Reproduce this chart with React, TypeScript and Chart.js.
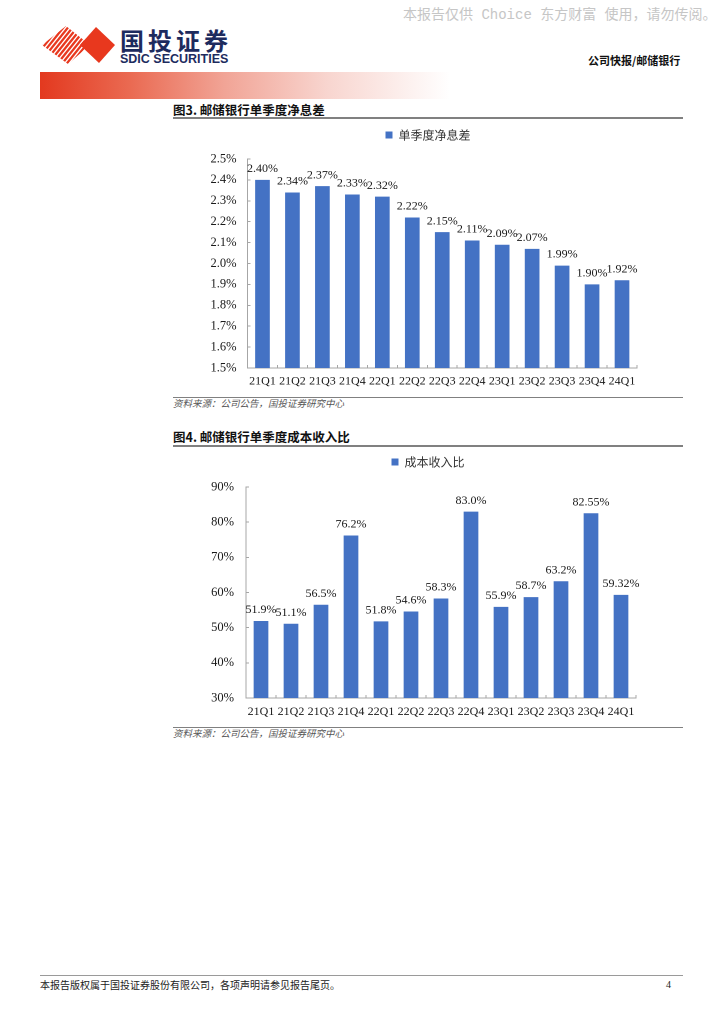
import React, { useEffect, useRef } from "react";
import { Chart, registerables } from "chart.js";

Chart.register(...registerables);

// ---------- data ----------
const quarters = ["21Q1", "21Q2", "21Q3", "21Q4", "22Q1", "22Q2", "22Q3", "22Q4", "23Q1", "23Q2", "23Q3", "23Q4", "24Q1"];

const nimName = "单季度净息差";
const nimValues = [2.4, 2.34, 2.37, 2.33, 2.32, 2.22, 2.15, 2.11, 2.09, 2.07, 1.99, 1.9, 1.92];
const nimLabels = ["2.40%", "2.34%", "2.37%", "2.33%", "2.32%", "2.22%", "2.15%", "2.11%", "2.09%", "2.07%", "1.99%", "1.90%", "1.92%"];
const nimAxis = { min: 1.5, max: 2.5, step: 0.1, digits: 1 };

const cirName = "成本收入比";
const cirValues = [51.9, 51.1, 56.5, 76.2, 51.8, 54.6, 58.3, 83.0, 55.9, 58.7, 63.2, 82.55, 59.32];
const cirLabels = ["51.9%", "51.1%", "56.5%", "76.2%", "51.8%", "54.6%", "58.3%", "83.0%", "55.9%", "58.7%", "63.2%", "82.55%", "59.32%"];
const cirAxis = { min: 30, max: 90, step: 10, digits: 0 };

const BAR = "#4472C4";
const AXIS = "#a6a6a6";
const SERIF = "'Liberation Serif', 'Times New Roman', serif";
const CJK = "'Noto Sans CJK SC', 'Noto Sans', sans-serif";

type Spec = {
  name: string;
  values: number[];
  labels: string[];
  axis: { min: number; max: number; step: number; digits: number };
  yWidth: number;
  yPad: number;
  xPad: number;
  legendExtra: number;
  padRight: number;
};

function BarChart({ spec, left, top, width, height }: { spec: Spec; left: number; top: number; width: number; height: number }) {
  const ref = useRef<HTMLCanvasElement | null>(null);
  useEffect(() => {
    if (!ref.current) return;
    const valueLabelPlugin = {
      id: "valueLabels",
      afterDatasetsDraw(chart: any) {
        const ctx = chart.ctx;
        const meta = chart.getDatasetMeta(0);
        ctx.save();
        ctx.font = `12px ${SERIF}`;
        ctx.fillStyle = "#1a1a1a";
        ctx.textAlign = "center";
        ctx.textBaseline = "middle";
        meta.data.forEach((el: any, i: number) => {
          ctx.fillText(spec.labels[i], el.x, el.y - 11);
        });
        ctx.restore();
      },
    };
    const legendGapPlugin = {
      id: "legendGap",
      beforeLayout(chart: any) {
        const lg = chart.legend;
        if (lg && !lg._gapPatched) {
          const fit = lg.fit;
          lg.fit = function () {
            fit.call(this);
            this.height += spec.legendExtra;
          };
          lg._gapPatched = true;
        }
      },
      afterLayout(chart: any) {
        const lg = chart.legend;
        if (lg) {
          // centre the legend over the whole figure width
          lg.left = 0;
          lg.right = chart.width;
        }
      },
    };
    const chart = new Chart(ref.current, {
      type: "bar",
      data: {
        labels: quarters,
        datasets: [
          {
            label: spec.name,
            data: spec.values,
            backgroundColor: BAR,
            borderWidth: 0,
            categoryPercentage: 1,
            barPercentage: 0.49,
          },
        ],
      },
      options: {
        animation: false,
        responsive: true,
        maintainAspectRatio: false,
        devicePixelRatio: 2,
        layout: { padding: { top: 2, left: 0, right: spec.padRight, bottom: 0 } },
        plugins: {
          tooltip: { enabled: false },
          legend: {
            display: true,
            position: "top",
            labels: {
              boxWidth: 7,
              boxHeight: 7,
              padding: 6,
              color: "#333",
              font: { family: CJK, size: 12 },
            },
          },
        },
        scales: {
          x: {
            grid: {
              display: true,
              drawOnChartArea: false,
              drawTicks: true,
              tickLength: -3,
              color: AXIS,
              offset: true,
            },
            border: { display: true, color: AXIS, width: 1 },
            ticks: {
              color: "#1a1a1a",
              padding: spec.xPad,
              maxRotation: 0,
              autoSkip: false,
              font: { family: SERIF, size: 12 },
            },
            afterFit(scale: any) {
              scale.height = 24;
            },
          },
          y: {
            min: spec.axis.min,
            max: spec.axis.max,
            grid: {
              display: true,
              drawOnChartArea: false,
              drawTicks: true,
              tickLength: -3,
              color: AXIS,
            },
            border: { display: true, color: AXIS, width: 1 },
            ticks: {
              stepSize: spec.axis.step,
              color: "#1a1a1a",
              padding: spec.yPad,
              font: { family: SERIF, size: 12.5 },
              callback: (v: any) => Number(v).toFixed(spec.axis.digits) + "%",
            },
            afterFit(scale: any) {
              scale.width = spec.yWidth;
            },
          },
        },
      },
      plugins: [valueLabelPlugin, legendGapPlugin],
    } as any);
    return () => chart.destroy();
  }, [spec]);
  return (
    <div style={{ position: "absolute", left, top, width, height }}>
      <canvas ref={ref} />
    </div>
  );
}

const nimSpec: Spec = {
  name: nimName,
  values: nimValues,
  labels: nimLabels,
  axis: nimAxis,
  yWidth: 74.5,
  yPad: 14,
  xPad: 9,
  legendExtra: 8,
  padRight: 46,
};

const cirSpec: Spec = {
  name: cirName,
  values: cirValues,
  labels: cirLabels,
  axis: cirAxis,
  yWidth: 73,
  yPad: 15,
  xPad: 9.5,
  legendExtra: 9,
  padRight: 47,
};

function Text({ x, y, size, children, style }: { x: number; y: number; size: number; children: any; style?: any }) {
  return (
    <div
      style={{
        position: "absolute",
        left: x,
        top: y - size / 2,
        fontSize: size,
        lineHeight: `${size}px`,
        whiteSpace: "nowrap",
        fontFamily: CJK,
        ...style,
      }}
    >
      {children}
    </div>
  );
}

function Rule({ x, y, w, h, color }: { x: number; y: number; w: number; h: number; color: string }) {
  return <div style={{ position: "absolute", left: x, top: y, width: w, height: h, background: color }} />;
}

function Logo() {
  const stripes = [] as any[];
  for (let i = -8; i < 16; i++) {
    const x0 = i * 4.6;
    stripes.push(<line key={i} x1={x0} y1={40} x2={x0 + 32} y2={0} />);
  }
  return (
    <svg width={80} height={40} viewBox="0 0 80 40" style={{ position: "absolute", left: 38, top: 25 }}>
      <defs>
        <clipPath id="stripeClip">
          <polygon points="4,20 28,1 52,20 30,39" />
        </clipPath>
      </defs>
      <g clipPath="url(#stripeClip)" stroke="#e8381e" strokeWidth={2.3}>
        {stripes}
      </g>
      <polygon points="42,20 58,2 77,20 61,38" fill="#e8381e" />
    </svg>
  );
}

export default function App() {
  return (
    <div style={{ position: "absolute", left: 0, top: 0, width: 724, height: 1024, background: "#fff", overflow: "hidden" }}>
      {/* watermark */}
      <Text x={403} y={15} size={14} style={{ color: "#c6c6c6", fontFamily: "'Liberation Mono', " + CJK }}>
        本报告仅供 Choice 东方财富 使用，请勿传阅。
      </Text>

      {/* logo */}
      <Logo />
      <Text x={120} y={40} size={24} style={{ color: "#1d2b5e", fontWeight: 700, letterSpacing: 4 }}>
        国投证券
      </Text>
      <Text x={120} y={59.5} size={12.5} style={{ color: "#1d2b5e", fontWeight: 700, fontFamily: "'Liberation Sans', Arial, sans-serif" }}>
        SDIC SECURITIES
      </Text>
      <Text x={588} y={60} size={11} style={{ color: "#111", fontWeight: 700 }}>
        公司快报/邮储银行
      </Text>
      <div
        style={{
          position: "absolute",
          left: 40,
          top: 72,
          width: 410,
          height: 27,
          background: "linear-gradient(to right, #e3391f 0%, #ea6a52 22%, #f1a496 45%, #f8d5cf 70%, #ffffff 100%)",
        }}
      />

      {/* figure 3 */}
      <Text x={173} y={110} size={12.5} style={{ color: "#111", fontWeight: 700 }}>
        图3. 邮储银行单季度净息差
      </Text>
      <Rule x={173} y={117} w={510} h={1.5} color="#808080" />
      <BarChart spec={nimSpec} left={173} top={121} width={510} height={271} />
      <Rule x={173} y={397} w={510} h={1} color="#808080" />
      <Text x={173} y={404} size={9.5} style={{ color: "#555", fontStyle: "italic" }}>
        资料来源：公司公告，国投证券研究中心
      </Text>

      {/* figure 4 */}
      <Text x={173} y={437} size={12.5} style={{ color: "#111", fontWeight: 700 }}>
        图4. 邮储银行单季度成本收入比
      </Text>
      <Rule x={173} y={445} w={510} h={1.5} color="#808080" />
      <BarChart spec={cirSpec} left={173} top={448} width={510} height={274} />
      <Rule x={173} y={727} w={510} h={1} color="#808080" />
      <Text x={173} y={734} size={9.5} style={{ color: "#555", fontStyle: "italic" }}>
        资料来源：公司公告，国投证券研究中心
      </Text>

      {/* footer */}
      <Rule x={40} y={975} w={643} h={1} color="#9a9a9a" />
      <Text x={40} y={985} size={10} style={{ color: "#222" }}>
        本报告版权属于国投证券股份有限公司，各项声明请参见报告尾页。
      </Text>
      <Text x={666} y={985} size={10} style={{ color: "#222", fontFamily: SERIF }}>
        4
      </Text>
    </div>
  );
}
